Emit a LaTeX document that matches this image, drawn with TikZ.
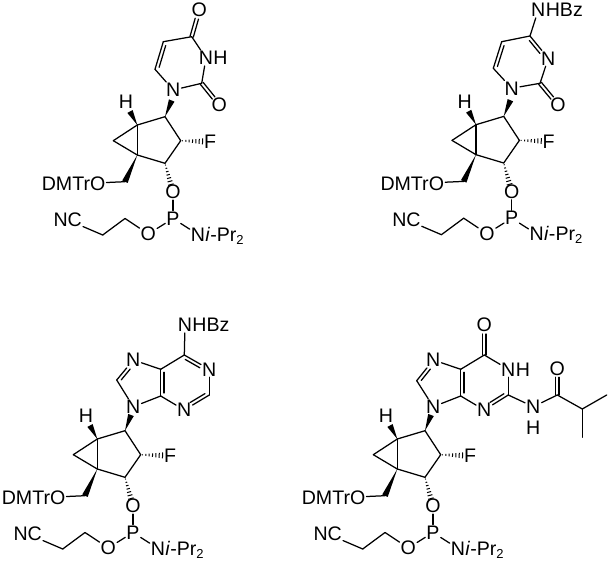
\documentclass[tikz,border=0pt]{standalone}
\usepackage{fontspec}
\setmainfont{Liberation Sans}
\usetikzlibrary{calc}
\tikzset{
  atom/.style={inner sep=1pt,font=\fontsize{19.6}{22}\selectfont},
  tailtext/.style={inner sep=0pt,anchor=base west,xshift=-1pt,font=\fontsize{19.6}{22}\selectfont},
  bondline/.style={draw=black,line width=1.25pt,line cap=round},
}
\newcommand\lowsub[1]{\raisebox{-3pt}{\fontsize{13}{15}\selectfont #1}}
\newcommand\bnd[2]{\draw[bondline] (#1) -- (#2);}
% symmetric double bond; #3 = shortening at the far end
\newcommand\dbl[3]{%
  \draw[bondline,shorten >=#3] ($(#1)!1.7pt!90:(#2)$) -- ($(#2)!1.7pt!-90:(#1)$);
  \draw[bondline,shorten >=#3] ($(#1)!1.7pt!-90:(#2)$) -- ($(#2)!1.7pt!90:(#1)$);}
% ring double bond, inner line on the right-hand side
\newcommand\dblin[4]{%
  \bnd{#1}{#2}
  \draw[bondline,shorten <=#3,shorten >=#4] ($(#1)!3.4pt!-90:(#2)$) -- ($(#2)!3.4pt!90:(#1)$);}
\newcommand\wdg[2]{\fill ($(#1)$) -- ($(#2)!3pt!90:(#1)$) -- ($(#2)!3pt!-90:(#1)$) -- cycle;}
\newcommand\hsh[2]{%
  \foreach \t/\w in {0.08/0.5pt,0.23/0.9pt,0.38/1.3pt,0.53/1.7pt,0.68/2.1pt,0.83/2.5pt,0.98/2.9pt}{%
    \coordinate (hh) at ($(#1)!\t!(#2)$);
    \draw[black,line width=1pt] ($(hh)!\w!90:(#2)$) -- ($(hh)!\w!-90:(#2)$);}}
\newcommand\sugar[3]{%
 \begin{scope}[shift={(#2,#3)},name prefix=#1-]
  \coordinate (ct) at (137.3,125);
  \coordinate (c1) at (165,116.7);
  \coordinate (c2) at (180.7,140.7);
  \coordinate (c3) at (165,163.3);
  \coordinate (cb) at (137.3,155);
  \coordinate (cp) at (113.3,140.7);
  \coordinate (ch) at (125,181.7);
  \coordinate (hw) at (130,111.5);
  \coordinate (fe) at (203,141.4);
  \coordinate (oe) at (171,185);
  \coordinate (ce1) at (125,218.5);
  \coordinate (ce2) at (102.7,235);
  \node[atom] (h) at (126,102) {H};
  \node[atom] (f) at (210,142) {F};
  \node[atom,anchor=east] (dmt) at (106.5,184) {DMTrO};
  \node[atom] (o3) at (173,192) {O};
  \node[atom] (p) at (173,218.5) {P};
  \node[atom] (o2) at (148.3,234) {O};
  \node[atom] (nc) at (67.7,220) {NC};
  \node[atom] (n) at (198,234.5) {N};
  \node[tailtext] (ipr) at (n.base east) {\textit{i}-Pr\lowsub{2}};
  \bnd{ct}{c1}\bnd{c1}{c2}\bnd{c2}{c3}\bnd{c3}{cb}\bnd{cb}{ct}\bnd{cb}{cp}\bnd{cp}{ct}
  \bnd{ch}{dmt}\bnd{o3}{p}\bnd{p}{o2}\bnd{o2}{ce1}\bnd{ce1}{ce2}\bnd{ce2}{nc}\bnd{p}{n}
  \wdg{ct}{hw}\wdg{cb}{ch}
  \hsh{c2}{fe}\hsh{c3}{oe}
 \end{scope}}
\begin{document}
\begin{tikzpicture}[x=1pt,y=-1pt]
\useasboundingbox (0,0) rectangle (610,561);
\fill[white] (0,0) rectangle (610,561);
% ---------- molecule 1
\sugar{a}{0}{0}
\coordinate (a6) at (155,69.3);
\coordinate (a5) at (163.3,41.7);
\coordinate (a4) at (191.7,36.7);
\coordinate (a2) at (201.7,83.3);
\coordinate (aw) at (171.7,100.5);
\node[atom] (a1) at (173.3,90) {N};
\node[atom] (a3) at (206,58) {N};
\node[tailtext] (a3h) at (a3.base east) {H};
\node[atom] (ao4) at (199.3,10) {O};
\node[atom] (ao2) at (219.3,105) {O};
\wdg{a-c1}{aw}
\bnd{a1}{a6}\dblin{a6}{a5}{3pt}{3pt}\bnd{a5}{a4}\bnd{a4}{a3}\bnd{a3}{a2}\bnd{a2}{a1}
\dbl{a4}{ao4}{9pt}\dbl{a2}{ao2}{9pt}
% ---------- molecule 2
\sugar{b}{338.7}{-0.3}
\coordinate (b6) at (493.3,68.3);
\coordinate (b5) at (501.7,41.7);
\coordinate (b4) at (530,36);
\coordinate (b2) at (540,83.3);
\coordinate (bw) at (510.4,100.2);
\node[atom] (b1) at (511.7,88.3) {N};
\node[atom] (b3) at (548.3,58.3) {N};
\node[atom] (bn) at (538.3,10) {N};
\node[tailtext] (bbz) at (bn.base east) {HBz};
\node[atom] (bo2) at (558,105) {O};
\wdg{b-c1}{bw}
\bnd{b1}{b6}\dblin{b6}{b5}{3pt}{3pt}\bnd{b5}{b4}\dblin{b4}{b3}{3pt}{9pt}\bnd{b3}{b2}\bnd{b2}{b1}
\bnd{b4}{bn}\dbl{b2}{bo2}{9pt}
% ---------- molecule 3
\sugar{c}{-40}{314}
\coordinate (c8) at (116.7,380);
\coordinate (c5) at (160.7,369.3);
\coordinate (c4) at (160.7,396);
\coordinate (c6) at (184.3,355);
\coordinate (c2) at (209.3,395);
\coordinate (cw) at (131,415);
\node[atom] (c9) at (133.3,406.7) {N};
\node[atom] (c7) at (133.3,360) {N};
\node[atom] (c1) at (209.3,369.3) {N};
\node[atom] (c3) at (184.3,410) {N};
\node[atom] (cn) at (185,325) {N};
\node[tailtext] (cbz) at (cn.base east) {HBz};
\wdg{c-c1}{cw}
\bnd{c9}{c8}\dblin{c8}{c7}{3pt}{9pt}\bnd{c7}{c5}\dblin{c4}{c5}{3pt}{3pt}\bnd{c4}{c9}
\bnd{c5}{c6}\dblin{c6}{c1}{3pt}{9pt}\bnd{c1}{c2}\dblin{c2}{c3}{3pt}{9pt}\bnd{c3}{c4}
\bnd{c6}{cn}
% ---------- molecule 4
\sugar{d}{260}{314}
\coordinate (d8) at (416.7,380.7);
\coordinate (d5) at (460.7,369.3);
\coordinate (d4) at (460.7,396);
\coordinate (d6) at (484.3,355);
\coordinate (d2) at (508.3,395);
\coordinate (dc) at (557.3,395);
\coordinate (dm) at (582.3,409);
\coordinate (dm1) at (606.7,395);
\coordinate (dm2) at (582.3,437.3);
\coordinate (dw) at (431,415);
\node[atom] (d9) at (433.3,406.7) {N};
\node[atom] (d7) at (433.3,360) {N};
\node[atom] (d1) at (508.3,369.3) {N};
\node[tailtext] (d1h) at (d1.base east) {H};
\node[atom] (d3) at (484.3,410) {N};
\node[atom] (do) at (484.3,325) {O};
\node[atom] (dn) at (533.3,406.7) {N};
\node[atom] (dnh) at (533.3,427.3) {H};
\node[atom] (dco) at (557.3,368.3) {O};
\wdg{d-c1}{dw}
\bnd{d9}{d8}\dblin{d8}{d7}{3pt}{9pt}\bnd{d7}{d5}\dblin{d4}{d5}{3pt}{3pt}\bnd{d4}{d9}
\bnd{d5}{d6}\bnd{d6}{d1}\bnd{d1}{d2}\dblin{d2}{d3}{3pt}{9pt}\bnd{d3}{d4}
\dbl{d6}{do}{9pt}\bnd{d2}{dn}\bnd{dn}{dc}\dbl{dc}{dco}{9pt}
\bnd{dc}{dm}\bnd{dm}{dm1}\bnd{dm}{dm2}
\end{tikzpicture}
\end{document}
